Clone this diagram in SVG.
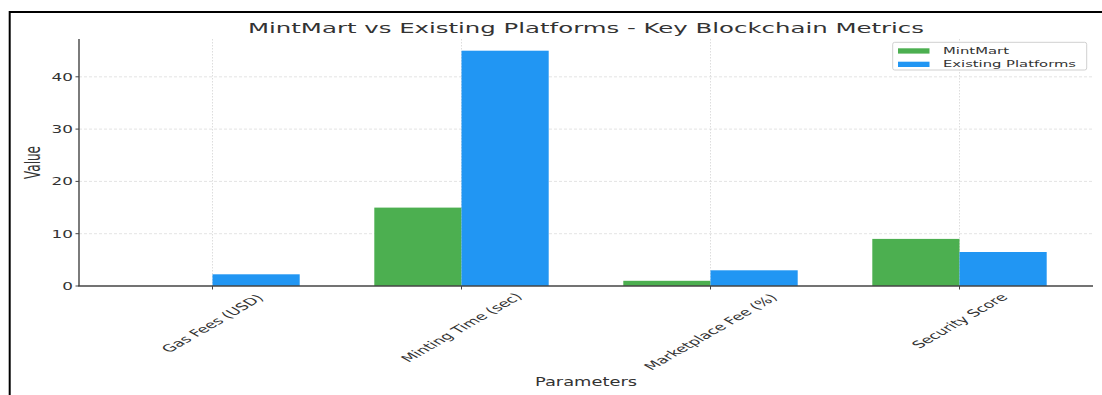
<svg xmlns="http://www.w3.org/2000/svg" width="1102" height="395" viewBox="0 0 1102 395">
<style>
text{font-family:"DejaVu Sans","Liberation Sans",sans-serif;fill:#333}
.grid{stroke:#dcdcdc;stroke-width:0.8;stroke-dasharray:3,2;fill:none}
.vgrid{stroke:#d4d4d4;stroke-width:0.8;stroke-dasharray:1.5,1.5;fill:none}
.spine{stroke:#444;stroke-width:1.4;fill:none}
.tick{stroke:#444;stroke-width:1;fill:none}
.mm{fill:#4CAF50}
.ep{fill:#2196F3}
.yt{font-size:10.5px}
.xt{font-size:10px}
</style>
<rect x="0" y="0" width="1102" height="395" fill="#fff"/>
<g id="frame">
<line x1="9" y1="12" x2="1102" y2="12" stroke="#000" stroke-width="2"/>
<line x1="9.7" y1="11" x2="9.7" y2="395" stroke="#000" stroke-width="2"/>
</g>
<g id="gridlines">
<line class="grid" x1="79" y1="233.7" x2="1093" y2="233.7"/>
<line class="grid" x1="79" y1="181.4" x2="1093" y2="181.4"/>
<line class="grid" x1="79" y1="129.1" x2="1093" y2="129.1"/>
<line class="grid" x1="79" y1="76.8" x2="1093" y2="76.8"/>
<line class="vgrid" x1="212.5" y1="39" x2="212.5" y2="286"/>
<line class="vgrid" x1="461.5" y1="39" x2="461.5" y2="286"/>
<line class="vgrid" x1="710.5" y1="39" x2="710.5" y2="286"/>
<line class="vgrid" x1="959.5" y1="39" x2="959.5" y2="286"/>
</g>
<g id="bars">
<rect class="ep" x="212.5" y="274.3" width="87.2" height="11.7"/>
<rect class="mm" x="374.3" y="207.6" width="87.2" height="78.4"/>
<rect class="ep" x="461.5" y="50.7" width="87.2" height="235.3"/>
<rect class="mm" x="623.3" y="280.8" width="87.2" height="5.2"/>
<rect class="ep" x="710.5" y="270.3" width="87.2" height="15.7"/>
<rect class="mm" x="872.3" y="238.9" width="87.2" height="47.1"/>
<rect class="ep" x="959.5" y="252.0" width="87.2" height="34"/>
</g>
<g id="axes">
<line class="spine" x1="79" y1="39" x2="79" y2="286"/>
<line class="spine" x1="78.3" y1="286" x2="1093" y2="286"/>
<line class="tick" x1="75.5" y1="286" x2="79" y2="286"/>
<line class="tick" x1="75.5" y1="233.7" x2="79" y2="233.7"/>
<line class="tick" x1="75.5" y1="181.4" x2="79" y2="181.4"/>
<line class="tick" x1="75.5" y1="129.1" x2="79" y2="129.1"/>
<line class="tick" x1="75.5" y1="76.8" x2="79" y2="76.8"/>
<line class="tick" x1="212.5" y1="286" x2="212.5" y2="289.5"/>
<line class="tick" x1="461.5" y1="286" x2="461.5" y2="289.5"/>
<line class="tick" x1="710.5" y1="286" x2="710.5" y2="289.5"/>
<line class="tick" x1="959.5" y1="286" x2="959.5" y2="289.5"/>
</g>
<g id="yticklabels" text-anchor="end">
<text class="yt" transform="translate(73,289.9) scale(1.6,1)">0</text>
<text class="yt" transform="translate(73,237.6) scale(1.6,1)">10</text>
<text class="yt" transform="translate(73,185.3) scale(1.6,1)">20</text>
<text class="yt" transform="translate(73,133) scale(1.6,1)">30</text>
<text class="yt" transform="translate(73,80.7) scale(1.6,1)">40</text>
</g>
<g id="xticklabels" text-anchor="middle">
<text class="xt" dy="0.35em" transform="translate(212.5,323.5) scale(1.75,1) rotate(-45)">Gas Fees (USD)</text>
<text class="xt" dy="0.35em" transform="translate(461.5,327.5) scale(1.75,1) rotate(-45)">Minting Time (sec)</text>
<text class="xt" dy="0.35em" transform="translate(710.5,332) scale(1.75,1) rotate(-45)">Marketplace Fee (%)</text>
<text class="xt" dy="0.35em" transform="translate(959.5,321) scale(1.75,1) rotate(-45)">Security Score</text>
</g>
<g id="labels">
<text x="586" y="33.3" font-size="14.6" text-anchor="middle" textLength="676" lengthAdjust="spacingAndGlyphs">MintMart vs Existing Platforms - Key Blockchain Metrics</text>
<text x="586" y="386" font-size="11.4" text-anchor="middle" textLength="102" lengthAdjust="spacingAndGlyphs">Parameters</text>
<text font-size="12" text-anchor="middle" transform="translate(40,162.5) scale(1.7,1) rotate(-90)">Value</text>
</g>
<g id="legend">
<rect x="892.7" y="42.3" width="194" height="27.7" rx="2" fill="#fff" fill-opacity="0.8" stroke="#d0d0d0" stroke-width="1"/>
<rect class="mm" x="898" y="48.3" width="31.5" height="5.3"/>
<rect class="ep" x="898" y="61.7" width="31.5" height="5.3"/>
<text x="943" y="54" font-size="8.5" textLength="66" lengthAdjust="spacingAndGlyphs">MintMart</text>
<text x="943" y="67.3" font-size="8.5" textLength="133" lengthAdjust="spacingAndGlyphs">Existing Platforms</text>
</g>
</svg>
